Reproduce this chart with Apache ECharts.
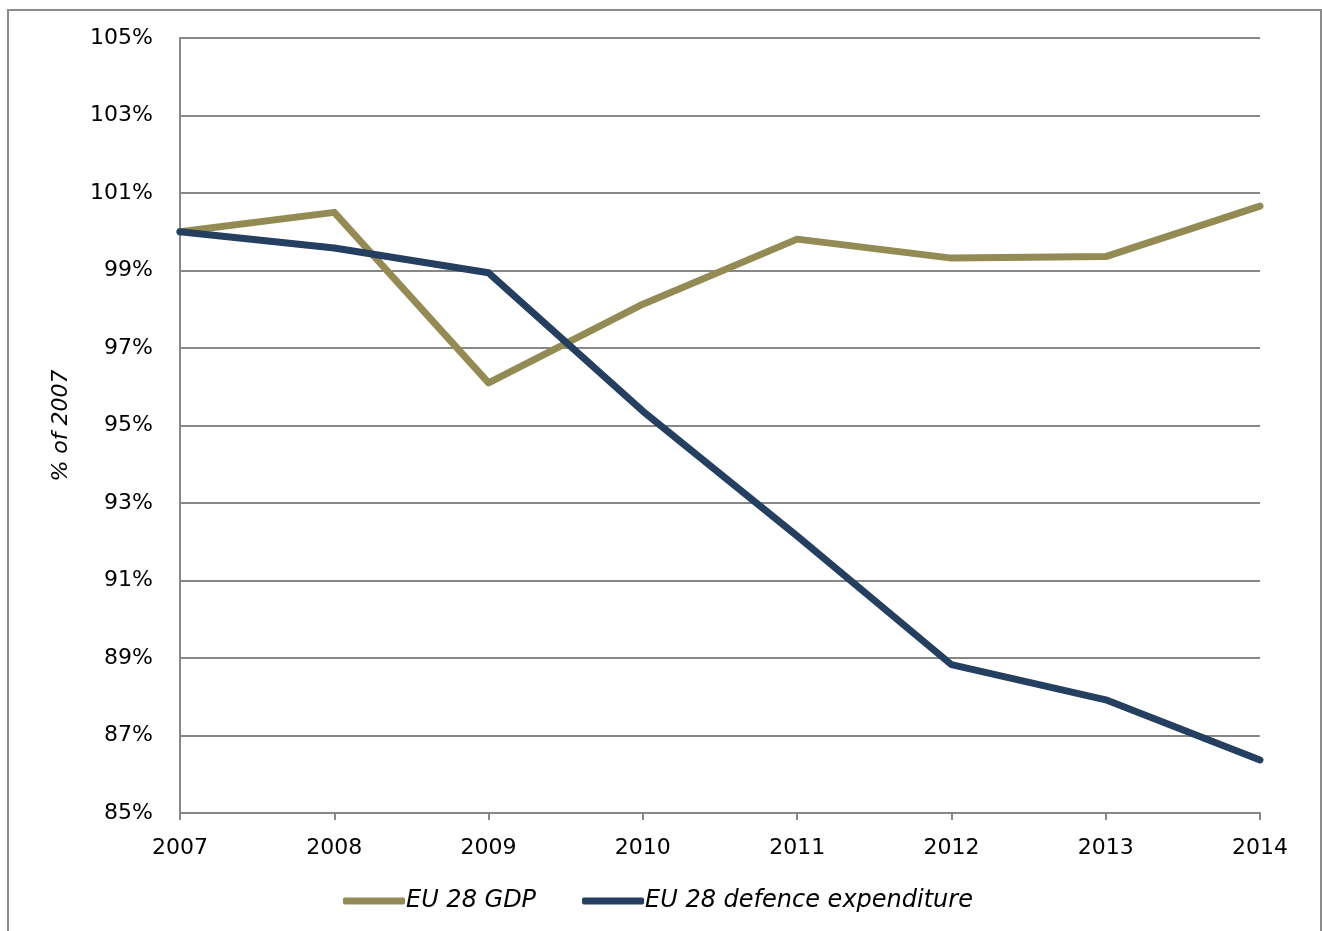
<!DOCTYPE html>
<html>
<head>
<meta charset="utf-8">
<script src="https://cdn.jsdelivr.net/npm/echarts@6/dist/echarts.min.js"></script>
<style>
  html, body { margin: 0; padding: 0; background: #fff; }
  #chart { width: 1322px; height: 931px; }
</style>
</head>
<body>
<div id="chart"></div>
<script>
const years = ['2007', '2008', '2009', '2010', '2011', '2012', '2013', '2014'];
const gdp = [100.0, 100.5, 96.1, 98.13, 99.81, 99.32, 99.36, 100.66];
const defence = [100.0, 99.58, 98.94, 95.37, 92.15, 88.83, 87.92, 86.37];
const seriesNames = ['EU 28 GDP', 'EU 28 defence expenditure'];
const yAxisTitle = '% of 2007';

const chart = echarts.init(document.getElementById('chart'));
const font = 'DejaVu Sans';
chart.setOption({
  animation: false,
  backgroundColor: '#ffffff',
  graphic: [{
    type: 'rect',
    shape: { x: 8, y: 10, width: 1313, height: 940 },
    style: { fill: 'none', stroke: '#8c8c8c', lineWidth: 2 },
    silent: true
  }],
  grid: { left: 180, right: 62, top: 38, bottom: 118, containLabel: false },
  legend: {
    data: seriesNames,
    left: 338,
    top: 884,
    itemWidth: 62,
    itemHeight: 7,
    itemGap: 46,
    icon: 'roundRect',
    textStyle: { fontFamily: font, fontStyle: 'italic', fontSize: 24, color: '#000', padding: [0, 0, 0, -4] }
  },
  xAxis: {
    type: 'category',
    data: years,
    boundaryGap: false,
    axisLine: { lineStyle: { color: '#878787', width: 2 } },
    axisTick: { show: true, length: 7, lineStyle: { color: '#878787', width: 2 } },
    axisLabel: { fontFamily: font, fontSize: 22, color: '#000', margin: 24 },
    splitLine: { show: false }
  },
  yAxis: {
    type: 'value',
    min: 85,
    max: 105,
    interval: 2,
    name: yAxisTitle,
    nameLocation: 'middle',
    nameGap: 108,
    nameRotate: 90,
    nameTextStyle: { fontFamily: font, fontStyle: 'italic', fontSize: 22, color: '#000' },
    axisLine: { show: true, lineStyle: { color: '#878787', width: 2 } },
    axisTick: { show: false },
    axisLabel: { fontFamily: font, fontSize: 22, color: '#000', margin: 27, formatter: v => v + '%' },
    splitLine: { show: true, lineStyle: { color: '#878787', width: 2 } }
  },
  series: [
    {
      name: seriesNames[0],
      type: 'line',
      data: gdp,
      symbol: 'none',
      lineStyle: { color: '#948a54', width: 7, cap: 'round', join: 'round' },
      itemStyle: { color: '#948a54' }
    },
    {
      name: seriesNames[1],
      type: 'line',
      data: defence,
      symbol: 'none',
      lineStyle: { color: '#243f60', width: 7, cap: 'round', join: 'round' },
      itemStyle: { color: '#243f60' }
    }
  ]
});
</script>
</body>
</html>
